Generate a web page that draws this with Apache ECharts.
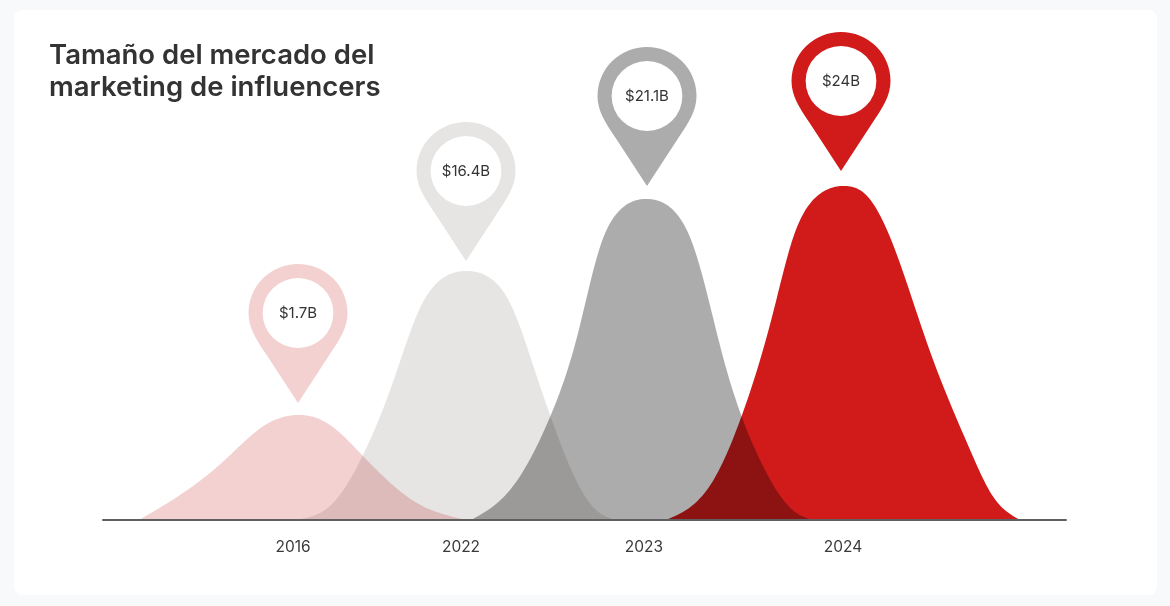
<!DOCTYPE html>
<html><head><meta charset="utf-8">
<style>html,body{margin:0;padding:0;background:#f7f9fb}#c{width:1170px;height:606px}</style>
<script src="https://cdn.jsdelivr.net/npm/echarts@6/dist/echarts.min.js"></script>
</head><body><div id="c"></div>
<script>
const titleText = 'Tamaño del mercado del\nmarketing de influencers';
const years = ['2016','2022','2023','2024'];
const yearTickX = [293,461,644,843];
const marketLabels = ['$1.7B','$16.4B','$21.1B','$24B'];
const pinTipX = [298,466,647,841];
const pinTipH = [117,259,334,349];
const colors = ['#f4d1d1','#e6e5e3','#acacac','#d01b1a'];

const curve2016 = [[139,0],[183,27],[227,62],[262,93],[297,105],[327,97],[362,65],[417,17],[467,0]];
const curve2022 = [[297,0],[333,17],[363,65],[393,138],[420,212],[443,242],[467,249],[490,242],[510,217],[533,155],[563,70],[593,13],[615,0]];
const curve2023 = [[471,0],[510,30],[550,103],[577,183],[600,273],[620,310],[648,321],[675,308],[693,275],[723,163],[760,60],[795,8],[813,0]];
const curve2024 = [[666,0],[711,36],[742,105],[773,207],[793,282],[815,322],[842,334],[868,323],[890,283],[927,177],[971,68],[992,25],[1020,0]];
const curves = [curve2016,curve2022,curve2023,curve2024];

const pinPath = 'path://M49 139 L18 91 C8 76 0 64 0 49 A49 49 0 1 1 98 49 C98 64 90 76 80 91 Z M49 84 A35 35 0 1 0 49 14 A35 35 0 1 0 49 84 Z';

// natural cubic spline through the read points (drawn through the axis scales)
function outline(pts){
  const n=pts.length,h=[],al=[0],l=[1],mu=[0],z=[0],c=new Array(n).fill(0);
  for(let i=0;i<n-1;i++) h.push(pts[i+1][0]-pts[i][0]);
  for(let i=1;i<n-1;i++){
    al[i]=3*(pts[i+1][1]-pts[i][1])/h[i]-3*(pts[i][1]-pts[i-1][1])/h[i-1];
    l[i]=2*(pts[i+1][0]-pts[i-1][0])-h[i-1]*mu[i-1];
    mu[i]=h[i]/l[i];
    z[i]=(al[i]-h[i-1]*z[i-1])/l[i];
  }
  for(let j=n-2;j>=1;j--) c[j]=z[j]-mu[j]*c[j+1];
  const out=[pts[0]];
  for(let i=0;i<n-1;i++){
    const b=(pts[i+1][1]-pts[i][1])/h[i]-h[i]*(c[i+1]+2*c[i])/3, d=(c[i+1]-c[i])/(3*h[i]);
    for(let k=1;k<=16;k++){
      const t=h[i]*k/16;
      out.push([pts[i][0]+t,pts[i][1]+b*t+c[i]*t*t+d*t*t*t]);
    }
  }
  return out;
}
function bellSeries(idx){
  return {
    type:'custom', name:years[idx], coordinateSystem:'cartesian2d', silent:true, z:2,
    encode:{x:0,y:1}, data:curves[idx], clip:false,
    renderItem(params,api){
      if(params.dataIndex!==0) return null;
      const pts=outline(curves[idx]).map(p=>api.coord([p[0],Math.max(0,p[1])]));
      return {type:'polygon',shape:{points:pts},style:{fill:colors[idx],blend:'multiply'}};
    }
  };
}
const chart=echarts.init(document.getElementById('c'),null,{renderer:'canvas'});
chart.setOption({
  animation:false,
  backgroundColor:'#f7f9fb',
  graphic:[{type:'rect',z:-10,silent:true,shape:{x:14,y:10,width:1143,height:585,r:8},style:{fill:'#ffffff'}}],
  title:{text:titleText,left:44,top:35,textStyle:{fontFamily:'Inter',fontSize:27.5,fontWeight:600,color:'#333333',lineHeight:32}},
  tooltip:{show:false},
  grid:{left:103,right:104,top:20,bottom:86},
  xAxis:{type:'value',min:103,max:1066,splitLine:{show:false},axisTick:{show:false},z:5,
    axisLine:{show:true,onZero:false,lineStyle:{color:'#5f5f5f',width:2}},
    axisLabel:{customValues:yearTickX,margin:19,fontFamily:'Inter',fontSize:15.5,color:'#3a3a3a',
      formatter:v=>years[yearTickX.indexOf(v)]}},
  yAxis:{type:'value',min:0,max:500,show:false},
  series:[
    ...curves.map((c,i)=>bellSeries(i)),
    {type:'scatter',name:'pins',silent:true,z:6,symbol:pinPath,symbolSize:[99,139],symbolOffset:[0,'-50%'],
     data:pinTipX.map((x,i)=>({value:[x,pinTipH[i]],itemStyle:{color:colors[i],opacity:1},
       label:{show:true,position:'inside',offset:[0,-20.5],formatter:marketLabels[i],fontFamily:'Inter',fontSize:15,color:'#333333'}}))}
  ]
});
// overlapping bells darken each other as in the reference
chart.getZr().storage.getDisplayList(true).forEach(el=>{
  if(el.shape&&el.shape.points&&el.shape.points.length>50){el.style.blend='multiply';el.dirty();}
});
chart.getZr().refreshImmediately();
</script></body></html>
